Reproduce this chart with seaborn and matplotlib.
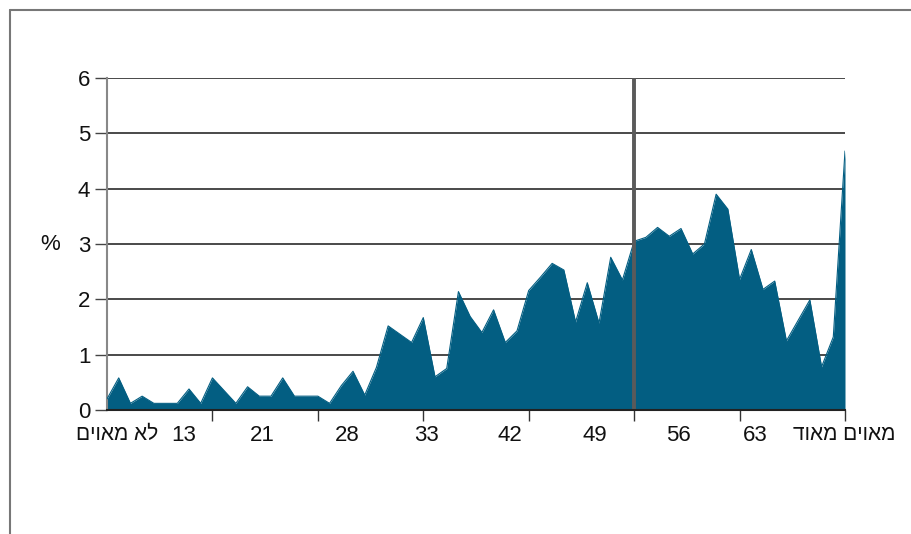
import matplotlib
matplotlib.use("Agg")
import numpy as np
import pandas as pd
import matplotlib.pyplot as plt
import seaborn as sns

# share of respondents (%) per score step, 64 steps
points = list(range(64))
percent = [0.20, 0.58, 0.12, 0.25, 0.12, 0.12, 0.12, 0.38, 0.12, 0.58,
           0.35, 0.12, 0.42, 0.25, 0.25, 0.58, 0.25, 0.25, 0.25, 0.12,
           0.44, 0.70, 0.27, 0.77, 1.52, 1.37, 1.22, 1.67, 0.60, 0.75,
           2.14, 1.69, 1.40, 1.81, 1.22, 1.43, 2.16, 2.40, 2.65, 2.53,
           1.59, 2.30, 1.57, 2.76, 2.35, 3.05, 3.12, 3.30, 3.14, 3.28,
           2.82, 3.00, 3.90, 3.63, 2.36, 2.90, 2.18, 2.33, 1.25, 1.62,
           1.99, 0.78, 1.32, 4.68]

# category labels under the axis (Hebrew reversed for LTR rendering)
tick_labels = ["לא מאוים"[::-1], "13", "21", "28", "33", "42", "49", "56", "63",
               "מאוים מאוד"[::-1]]
tick_pos = [0.85, 6.52, 13.23, 20.53, 27.30, 34.39, 41.62, 48.75, 55.32, 62.92]
divider = 45

df = pd.DataFrame({"point": points, "percent": percent})

sns.set_style("white")
plt.rcParams["font.family"] = ["Liberation Sans", "DejaVu Sans"]

fill_col = "#035e82"

fig = plt.figure(figsize=(9.11, 5.34), dpi=100)
ax = fig.add_axes([107 / 911, 124 / 534, 738 / 911, 332 / 534])

ax.fill_between(df["point"], 0, df["percent"], color=fill_col, lw=0, zorder=2)
sns.lineplot(data=df, x="point", y="percent", color=fill_col, lw=0.8, ax=ax, zorder=3)

ax.set_xlim(0, 63)
ax.set_ylim(0, 6)

# horizontal grid
for v in range(1, 7):
    ax.axhline(v, color="#2a2a2a", lw=1.2, zorder=1)
ax.axvline(divider, color="#5a5a5a", lw=2.8, zorder=4)

ax.set_yticks(range(0, 7))
ax.set_yticklabels([str(v) for v in range(0, 7)])
ax.tick_params(axis="y", length=8.5, width=1, color="#444444", pad=3.5,
               labelsize=16, labelcolor="#111111", left=True)

ax.set_xticks(tick_pos)
ax.set_xticklabels(tick_labels)
ax.set_xticks(range(9, 64, 9), minor=True)
ax.tick_params(axis="x", which="major", length=0, pad=11, labelsize=16,
               labelcolor="#111111")
ax.tick_params(axis="x", which="minor", length=8, width=1, color="#333333",
               bottom=True)
# the Hebrew end labels are set a bit smaller
for lbl in (ax.get_xticklabels()[0], ax.get_xticklabels()[-1]):
    lbl.set_fontsize(15)

ax.set_xlabel("")
ax.set_ylabel("")
ax.text(-0.077, 0.5, "%", transform=ax.transAxes, ha="center", va="center",
        fontsize=16, color="#111111")

for s in ["top", "right"]:
    ax.spines[s].set_visible(False)
ax.spines["left"].set_color("#888888")
ax.spines["left"].set_linewidth(1.5)
ax.spines["bottom"].set_color("#222222")
ax.spines["bottom"].set_linewidth(1.5)
ax.spines["bottom"].set_zorder(5)

# outer frame
fig.add_artist(plt.Line2D([10 / 911, 1], [1 - 10 / 534, 1 - 10 / 534],
                          color="#777777", lw=1.5))
fig.add_artist(plt.Line2D([10 / 911, 10 / 911], [0, 1 - 10 / 534],
                          color="#777777", lw=1.5))

fig.savefig("out.png", dpi=100)
